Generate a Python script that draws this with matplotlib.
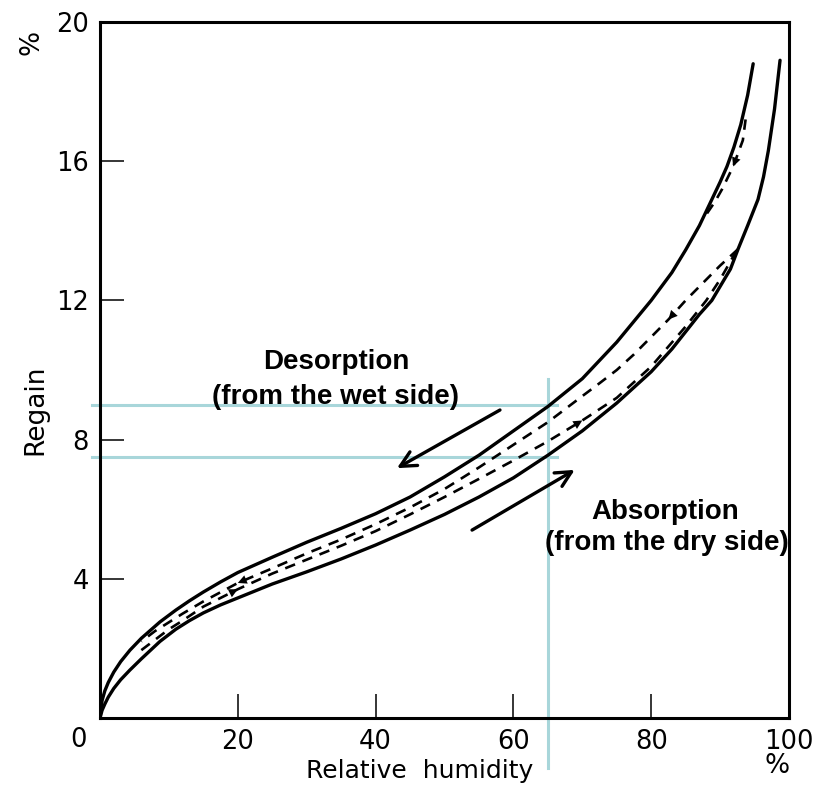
import matplotlib
matplotlib.use("Agg")
import matplotlib.pyplot as plt

# ---- data ----
rh_upper = [0, 0.3, 0.7, 1.2, 2, 3, 4.35, 6, 8.7, 11, 13, 15, 17.5, 20, 25, 30, 35, 40, 45, 50,
            55, 60, 65, 70, 75, 80, 83, 85, 87, 88.8, 90, 91, 92, 93, 94, 94.8]
desorption = [0, 0.5, 0.78, 1.02, 1.32, 1.62, 1.95, 2.29, 2.76, 3.1, 3.37, 3.62, 3.91, 4.18, 4.62, 5.05, 5.45, 5.87, 6.35, 6.93,
              7.55, 8.25, 8.95, 9.75, 10.8, 12.0, 12.8, 13.45, 14.15, 14.9, 15.4, 15.85, 16.4, 17.05, 17.9, 18.8]

rh_lower = [0, 0.3, 0.7, 1.2, 2, 3, 4.35, 6, 8.7, 11, 13, 15, 17.5, 20, 25, 30, 35, 40, 45, 50,
            55, 60, 65, 70, 75, 80, 83, 85, 87, 88.8, 90, 91.5, 92.6, 94, 95.5, 96.3, 97, 97.9, 98.7]
absorption = [0, 0.22, 0.4, 0.6, 0.85, 1.1, 1.38, 1.7, 2.2, 2.55, 2.8, 3.02, 3.25, 3.45, 3.85, 4.2, 4.57, 4.97, 5.4, 5.85,
              6.35, 6.9, 7.55, 8.25, 9.05, 9.95, 10.6, 11.1, 11.6, 12.0, 12.4, 12.9, 13.47, 14.15, 14.9, 15.55, 16.3, 17.5, 18.9]

rh_scan_a = [92.6, 90, 87.5, 85, 82.5, 80, 77.5, 75, 72.5, 70, 65, 60, 55, 50, 45, 40, 35, 30, 25, 20, 15, 12, 10, 8, 6]
scan_a = [13.47, 13.0, 12.5, 12.0, 11.45, 10.95, 10.45, 10.0, 9.62, 9.25, 8.5, 7.85, 7.2, 6.58, 6.05, 5.57, 5.13, 4.73,
          4.3, 3.88, 3.35, 3.0, 2.75, 2.5, 2.2]

rh_scan_b = [6, 8, 10, 12, 15, 20, 25, 30, 35, 40, 45, 50, 55, 60, 65, 70, 75, 80, 85, 88, 90, 92.6]
scan_b = [1.95, 2.25, 2.55, 2.8, 3.2, 3.7, 4.15, 4.55, 4.95, 5.37, 5.85, 6.35, 6.87, 7.4, 7.95, 8.55, 9.2, 10.1, 11.25,
          12.0, 12.6, 13.5]

rh_scan_c = [88.1, 89.3, 90.3, 91.9, 93.3, 93.7]
scan_c = [14.5, 14.85, 15.2, 15.85, 16.6, 17.2]

x_ticks = [20, 40, 60, 80, 100]
y_ticks = [4, 8, 12, 16, 20]

marked_rh = 65
marked_regain = [9.0, 7.5]

W, H = 817, 787
fig = plt.figure(figsize=(W / 100, H / 100), dpi=100)
ax = fig.add_axes([100 / W, 1 - 718 / H, 689 / W, 696 / H])
ax.set_xlim(0, 100)
ax.set_ylim(0, 20)

lw = 2.4
ax.plot(rh_upper, desorption, color="black", lw=lw, solid_capstyle="round", solid_joinstyle="round")
ax.plot(rh_lower, absorption, color="black", lw=lw, solid_capstyle="round", solid_joinstyle="round")
for xs, ys in [(rh_scan_a, scan_a), (rh_scan_b, scan_b), (rh_scan_c, scan_c)]:
    ax.plot(xs, ys, color="black", lw=1.9, ls=(0, (4, 3)))

# small arrowheads on scanning curves
def head(xs, ys, i, j):
    ax.annotate("", xy=(xs[j], ys[j]), xytext=(xs[i], ys[i]),
                arrowprops=dict(arrowstyle="-|>", color="black", lw=0.01,
                                mutation_scale=16, shrinkA=0, shrinkB=0))

head(rh_scan_a, scan_a, 3, 4)
head(rh_scan_a, scan_a, 18, 19)
head(rh_scan_b, scan_b, 4, 5)
head(rh_scan_b, scan_b, 14, 15)
head(rh_scan_c, scan_c, 4, 3)

# spines / ticks
for s in ax.spines.values():
    s.set_linewidth(2.2)
ax.set_xticks(x_ticks)
ax.set_yticks(y_ticks)
ax.set_xticklabels([str(v) for v in x_ticks])
ax.set_yticklabels([str(v) for v in y_ticks])
ax.tick_params(direction="in", length=17, width=1.1, labelsize=18.5, pad=8)

fig.text(78 / W, 1 - 740 / H, "0", fontsize=18.5, ha="center", va="center")
fig.text(31 / W, 1 - 42 / H, "%", fontsize=19, rotation=90, ha="center", va="center")
fig.text(777 / W, 1 - 766 / H, "%", fontsize=19, ha="center", va="center")
fig.text(35 / W, 1 - 410 / H, "Regain", fontsize=19, rotation=90, ha="center", va="center")
fig.text(420 / W, 1 - 771 / H, "Relative  humidity", fontsize=18, ha="center", va="center")

# blue guide lines
blue = "#A8D6DA"
for yv in marked_regain:
    ax.plot([-1.2, 66.3], [yv, yv], color=blue, lw=2.2, clip_on=False, zorder=1)
ax.plot([marked_rh, marked_rh], [-1.45, 9.75], color=blue, lw=2.2, clip_on=False, zorder=1)

# annotations
bold = dict(fontsize=20, fontweight="bold", family="Liberation Sans", ha="center", va="center")
ax.text(34.25, 10.23, "Desorption", **bold)
ax.text(34.25, 9.22, "(from the wet side)", **bold)
ax.text(82.0, 5.92, "Absorption", **bold)
ax.text(82.3, 5.03, "(from the dry side)", **bold)

arrow = dict(arrowstyle="->", color="black", lw=2.4, mutation_scale=28, shrinkA=0, shrinkB=0)
ax.annotate("", xy=(43.1, 7.18), xytext=(58.05, 8.85), arrowprops=arrow)
ax.annotate("", xy=(68.9, 7.13), xytext=(54.0, 5.40), arrowprops=arrow)

fig.savefig("out.png", dpi=100)
